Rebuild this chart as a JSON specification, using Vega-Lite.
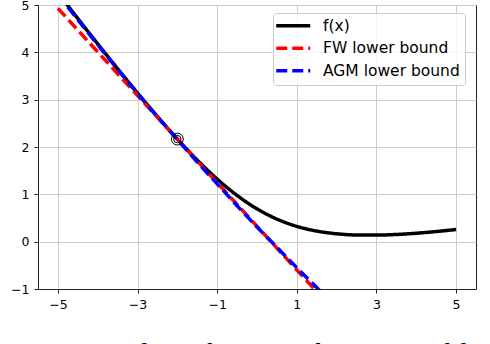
{
  "$schema": "https://vega.github.io/schema/vega-lite/v6.json",
  "autosize": "none",
  "padding": {"left": 38, "top": 5, "right": 14, "bottom": 55},
  "width": 438,
  "height": 284,
  "background": "white",
  "view": {"stroke": "#222", "strokeWidth": 1},
  "title": {
    "text": "Figure 1: Similarity between the BFGS of f",
    "orient": "bottom",
    "anchor": "start",
    "font": "Liberation Serif",
    "fontSize": 28,
    "fontWeight": "normal",
    "color": "#000",
    "baseline": "top",
    "offset": 29,
    "dx": -31
  },
  "datasets": {
    "curves": [
      {"series": "f(x)", "x": -5.0, "y": 5.257},
      {"series": "f(x)", "x": -4.5, "y": 4.714},
      {"series": "f(x)", "x": -4.0, "y": 4.178},
      {"series": "f(x)", "x": -3.5, "y": 3.652},
      {"series": "f(x)", "x": -3.0, "y": 3.139},
      {"series": "f(x)", "x": -2.5, "y": 2.641},
      {"series": "f(x)", "x": -2.0, "y": 2.167},
      {"series": "f(x)", "x": -1.5, "y": 1.724},
      {"series": "f(x)", "x": -1.0, "y": 1.323},
      {"series": "f(x)", "x": -0.5, "y": 0.977},
      {"series": "f(x)", "x": 0.0, "y": 0.693},
      {"series": "f(x)", "x": 0.5, "y": 0.477},
      {"series": "f(x)", "x": 1.0, "y": 0.323},
      {"series": "f(x)", "x": 1.5, "y": 0.224},
      {"series": "f(x)", "x": 2.0, "y": 0.167},
      {"series": "f(x)", "x": 2.5, "y": 0.141},
      {"series": "f(x)", "x": 3.0, "y": 0.139},
      {"series": "f(x)", "x": 3.5, "y": 0.152},
      {"series": "f(x)", "x": 4.0, "y": 0.178},
      {"series": "f(x)", "x": 4.5, "y": 0.214},
      {"series": "f(x)", "x": 5.0, "y": 0.257},
      {"series": "FW lower bound", "x": -5.0, "y": 4.93},
      {"series": "FW lower bound", "x": 2.0, "y": -1.517},
      {"series": "AGM lower bound", "x": -5.0, "y": 5.22},
      {"series": "AGM lower bound", "x": -4.5, "y": 4.69},
      {"series": "AGM lower bound", "x": -4.0, "y": 4.16},
      {"series": "AGM lower bound", "x": -3.5, "y": 3.64},
      {"series": "AGM lower bound", "x": -3.0, "y": 3.13},
      {"series": "AGM lower bound", "x": -2.5, "y": 2.64},
      {"series": "AGM lower bound", "x": -2.0, "y": 2.16},
      {"series": "AGM lower bound", "x": -1.5, "y": 1.68},
      {"series": "AGM lower bound", "x": -1.0, "y": 1.22},
      {"series": "AGM lower bound", "x": -0.5, "y": 0.76},
      {"series": "AGM lower bound", "x": 0.0, "y": 0.31},
      {"series": "AGM lower bound", "x": 0.5, "y": -0.12},
      {"series": "AGM lower bound", "x": 1.0, "y": -0.55},
      {"series": "AGM lower bound", "x": 1.5, "y": -0.97},
      {"series": "AGM lower bound", "x": 2.0, "y": -1.39}
    ],
    "marker": [
      {"x": -2.0, "y": 2.167}
    ]
  },
  "encoding": {
    "x": {
      "field": "x", "type": "quantitative",
      "scale": {"domain": [-5.5, 5.5], "nice": false, "zero": false},
      "axis": {"values": [-5, -3, -1, 1, 3, 5], "title": null}
    },
    "y": {
      "field": "y", "type": "quantitative",
      "scale": {"domain": [-1, 5], "nice": false, "zero": false},
      "axis": {"values": [-1, 0, 1, 2, 3, 4, 5], "title": null}
    }
  },
  "layer": [
    {
      "data": {"name": "curves"},
      "transform": [{"filter": "datum.series === 'f(x)'"}],
      "mark": {"type": "line", "clip": true, "strokeWidth": 3.5, "interpolate": "monotone"},
      "encoding": {
        "color": {"field": "series", "type": "nominal",
          "scale": {"domain": ["f(x)", "FW lower bound", "AGM lower bound"], "range": ["#000000", "#ff0000", "#0000ff"]},
          "legend": {"title": null}},
        "strokeDash": {"field": "series", "type": "nominal",
          "scale": {"domain": ["f(x)", "FW lower bound", "AGM lower bound"], "range": [[1, 0], [11, 5], [11, 5]]},
          "legend": {"title": null}}
      }
    },
    {
      "data": {"name": "curves"},
      "transform": [{"filter": "datum.series === 'FW lower bound'"}],
      "mark": {"type": "line", "clip": true, "strokeWidth": 3.5},
      "encoding": {
        "color": {"field": "series", "type": "nominal"},
        "strokeDash": {"field": "series", "type": "nominal"}
      }
    },
    {
      "data": {"name": "curves"},
      "transform": [{"filter": "datum.series === 'AGM lower bound'"}],
      "mark": {"type": "line", "clip": true, "strokeWidth": 3.5, "interpolate": "monotone"},
      "encoding": {
        "color": {"field": "series", "type": "nominal"},
        "strokeDash": {"field": "series", "type": "nominal"}
      }
    },
    {
      "data": {"name": "marker"},
      "mark": {"type": "point", "shape": "circle", "filled": false, "stroke": "#000", "strokeWidth": 1, "size": 140, "opacity": 1}
    },
    {
      "data": {"name": "marker"},
      "mark": {"type": "point", "shape": "circle", "filled": false, "stroke": "#000", "strokeWidth": 1, "size": 55, "opacity": 1}
    }
  ],
  "config": {
    "view": {"stroke": "#222", "strokeWidth": 1},
    "font": "DejaVu Sans",
    "axis": {
      "grid": true,
      "gridColor": "#cccccc",
      "gridWidth": 1,
      "domainColor": "#222",
      "domainWidth": 1,
      "tickColor": "#222",
      "tickSize": 4,
      "tickWidth": 1,
      "labelFont": "DejaVu Sans",
      "labelFontSize": 12.5,
      "labelColor": "#000",
      "labelPadding": 5
    },
    "legend": {
      "orient": "none",
      "legendX": 235,
      "legendY": 8,
      "symbolType": "M-4.25,0H4.25",
      "symbolSize": 64,
      "symbolOffset": 7.5,
      "symbolStrokeWidth": 3.5,
      "labelFont": "DejaVu Sans",
      "labelFontSize": 15.5,
      "labelColor": "#000",
      "labelAlign": "left",
      "labelOffset": 22,
      "rowPadding": 5.5,
      "padding": 5,
      "fillColor": "rgba(255,255,255,0.8)",
      "strokeColor": "#cccccc",
      "cornerRadius": 3
    }
  }
}
